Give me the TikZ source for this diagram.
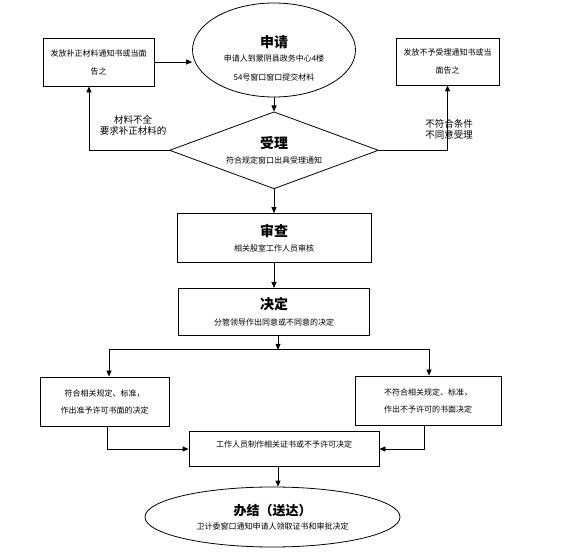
\documentclass[tikz,border=0pt]{standalone}
\usepackage{fontspec}
\newfontfamily\cjk{Noto Sans CJK SC}
\usetikzlibrary{shapes.geometric, arrows.meta, positioning}

\begin{document}
\begin{tikzpicture}[
    x=1pt, y=-1pt,
    every node/.style={font=\cjk\fontsize{8}{18}\selectfont, align=center},
    startstop/.style={ellipse, draw=black, line width=0.8pt, inner sep=0pt},
    decision/.style={diamond, draw=black, line width=0.8pt, aspect=2.7, inner sep=0pt, minimum width=209pt, minimum height=77pt},
    process/.style={rectangle, draw=black, line width=0.8pt, inner sep=2pt},
    note/.style={font=\cjk\fontsize{9.5}{11}\selectfont, align=center, inner sep=0pt},
    arrow/.style={-{Triangle[length=6pt, width=5pt]}, line width=0.8pt}
]
\useasboundingbox (0,0) rectangle (584,553);

% main column
\node[startstop, minimum width=163pt, minimum height=94pt] (apply) at (274,50)
    {\rule{0pt}{28pt}{\fontsize{14}{16}\selectfont\bfseries 申请}\\[-4pt] 申请人到蒙阴县政务中心4楼\\[1pt] 54号窗口窗口提交材料};
\node[decision, below=14pt of apply] (accept)
    {{\fontsize{14}{16}\selectfont\bfseries 受理}\\[-3pt] 符合规定窗口出具受理通知};
\node[process, below=24pt of accept, minimum width=194pt, minimum height=49pt] (review)
    {{\fontsize{14}{16}\selectfont\bfseries 审查}\\[-3pt] 相关股室工作人员审核};
\node[process, below=25pt of review, minimum width=191pt, minimum height=47pt] (decide)
    {{\fontsize{14}{16}\selectfont\bfseries 决定}\\[-2pt] 分管领导作出同意或不同意的决定};
\coordinate[below=14pt of decide, xshift=4pt] (split);

% side boxes
\node[process, minimum width=111pt, minimum height=48pt] (supplement) at (98.5,62)
    {发放补正材料通知书或当面\\ 告之};
\node[process, minimum width=103pt, minimum height=47pt] (refuse) at (447.5,61.5)
    {发放不予受理通知书或当\\ 面告之};
\node[note] (lack) at (133,125) {材料不全\\ 要求补正材料的};
\node[note] (unfit) at (449,129.5) {不符合条件\\ 不同意受理};

% branches
\node[process, minimum width=129pt, minimum height=49pt] (approve) at (104.5,401.5)
    {符合相关规定、标准，\\[-1pt] 作出准予许可书面的决定};
\node[process, minimum width=146pt, minimum height=49pt] (reject) at (428,400.5)
    {不符合相关规定、标准，\\[-1pt] 作出不予许可的书面决定};
\node[process, minimum width=190pt, minimum height=35pt] (make) at (284,449)
    {\rule[-10pt]{0pt}{0pt}工作人员制作相关证书或不予许可决定};
\node[startstop, minimum width=255pt, minimum height=60pt] (done) at (272.5,517)
    {{\fontsize{13}{15}\selectfont\bfseries 办结（送达）}\\[-4pt] 卫计委窗口通知申请人领取证书和审批决定};

\draw[arrow] (supplement.east) -- (apply.west |- supplement.east);
\draw[arrow] (apply.south) -- (accept.north);
\draw[arrow] (accept.west) -| ([xshift=-9.5pt]supplement.south);
\draw[arrow] (accept.east) -| (refuse.south);
\draw[arrow] (accept.south) -- (review.north);
\draw[arrow] (review.south) -- (decide.north);
\draw[arrow] (decide.south -| split) -- (split);
\draw[arrow] (split) -| ([xshift=4.5pt]approve.north);
\draw[arrow] (split) -| ([xshift=1pt]reject.north);
\draw[arrow] ([xshift=2.5pt]approve.south) |- (make.west);
\draw[arrow] ([xshift=-4pt]reject.south) |- (make.east);
\draw[arrow] (make.south -| split) -- (split |- done.north);

\end{tikzpicture}
\end{document}
